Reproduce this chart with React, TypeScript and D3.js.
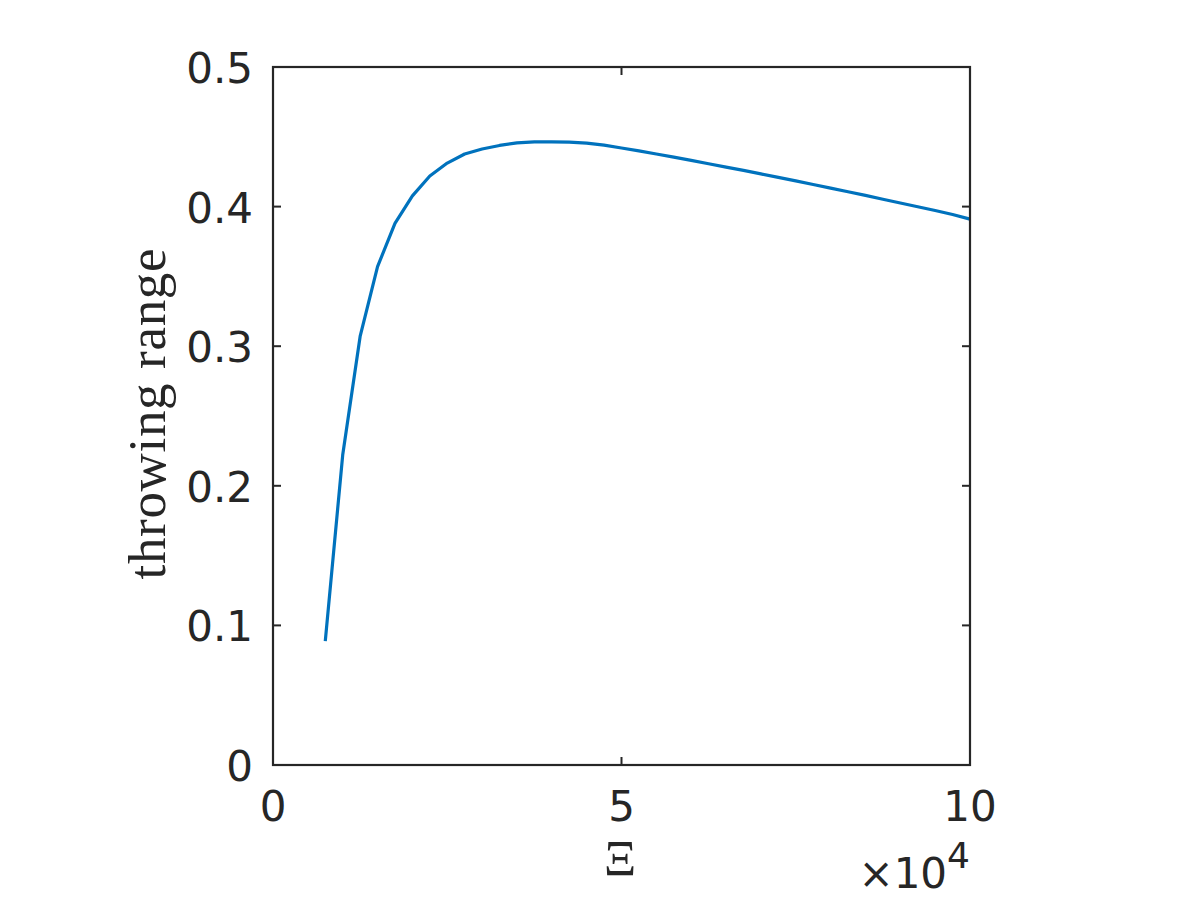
import React from 'react'
import * as d3 from 'd3'

// Xi values (raw) and throwing range
const xiValues = [
  7500, 10000, 12500, 15000, 17500, 20000, 22500, 25000, 27500, 30000,
  32500, 35000, 37500, 40000, 42500, 45000, 47500, 50000, 52500, 55000,
  57500, 60000, 62500, 65000, 67500, 70000, 72500, 75000, 77500, 80000,
  82500, 85000, 87500, 90000, 92500, 95000, 97500, 100000
]
const rangeValues = [
  0.0888, 0.222, 0.307, 0.357, 0.388, 0.4077, 0.4219, 0.4312, 0.4377, 0.4413,
  0.4438, 0.4456, 0.4463, 0.4464, 0.4462, 0.4455, 0.444, 0.442, 0.4399, 0.4377,
  0.4354, 0.4331, 0.4307, 0.4283, 0.4259, 0.4234, 0.4209, 0.4184, 0.4158, 0.4132,
  0.4106, 0.408, 0.4053, 0.4026, 0.3999, 0.3972, 0.3943, 0.391
]
const xTicks = [0, 50000, 100000]
const xTickLabels = ['0', '5', '10']
const yTicks = [0, 0.1, 0.2, 0.3, 0.4, 0.5]
const yTickLabels = ['0', '0.1', '0.2', '0.3', '0.4', '0.5']

const W = 1200
const H = 900
const left = 273
const right = 970
const top = 67
const bottom = 765
const ink = '#262626'
const tickLen = 8

function App() {
  const x = d3.scaleLinear().domain([0, 100000]).range([left, right])
  const y = d3.scaleLinear().domain([0, 0.5]).range([bottom, top])

  const pts: [number, number][] = xiValues.map((v, i) => [v, rangeValues[i]])
  const line = d3
    .line<[number, number]>()
    .x(d => x(d[0]))
    .y(d => y(d[1]))

  const sans = 'DejaVu Sans, sans-serif'
  const serif = 'Liberation Serif, serif'

  return (
    <svg
      width={W}
      height={H}
      style={{ position: 'absolute', left: 0, top: 0, background: '#fff' }}
    >
      <rect x={0} y={0} width={W} height={H} fill="#fff" />
      <path d={line(pts) || ''} fill="none" stroke="#0072BD" strokeWidth={3.2} strokeLinejoin="round" />

      {/* box */}
      <rect x={left} y={top} width={right - left} height={bottom - top} fill="none" stroke={ink} strokeWidth={2.2} />

      {/* y ticks, mirrored on both sides */}
      {yTicks.map((t, i) => (
        <g key={'y' + i}>
          <line x1={left} x2={left + tickLen} y1={y(t)} y2={y(t)} stroke={ink} strokeWidth={2} />
          <line x1={right} x2={right - tickLen} y1={y(t)} y2={y(t)} stroke={ink} strokeWidth={2} />
          <text x={left - 20} y={y(t) + 16} textAnchor="end" fontFamily={sans} fontSize={42} fill={ink}>
            {yTickLabels[i]}
          </text>
        </g>
      ))}

      {/* x ticks */}
      {xTicks.map((t, i) => (
        <g key={'x' + i}>
          <line x1={x(t)} x2={x(t)} y1={bottom} y2={bottom - tickLen} stroke={ink} strokeWidth={2} />
          <line x1={x(t)} x2={x(t)} y1={top} y2={top + tickLen} stroke={ink} strokeWidth={2} />
          <text x={x(t)} y={821} textAnchor="middle" fontFamily={sans} fontSize={42} fill={ink}>
            {xTickLabels[i]}
          </text>
        </g>
      ))}

      {/* exponent */}
      <text x={right} y={888} textAnchor="end" fontFamily={sans} fontSize={42} fill={ink}>
        ×10<tspan dy={-20} fontSize={36}>4</tspan>
      </text>

      {/* axis labels */}
      <text x={620} y={875} textAnchor="middle" fontFamily={serif} fontSize={50} fill={ink}>
        Ξ
      </text>
      <text
        transform={`translate(165, ${(top + bottom) / 2 - 2}) rotate(-90)`}
        textAnchor="middle"
        fontFamily={serif}
        fontSize={53}
        fill={ink}
        textLength={331}
        lengthAdjust="spacing"
      >
        throwing range
      </text>
    </svg>
  )
}

export default App
